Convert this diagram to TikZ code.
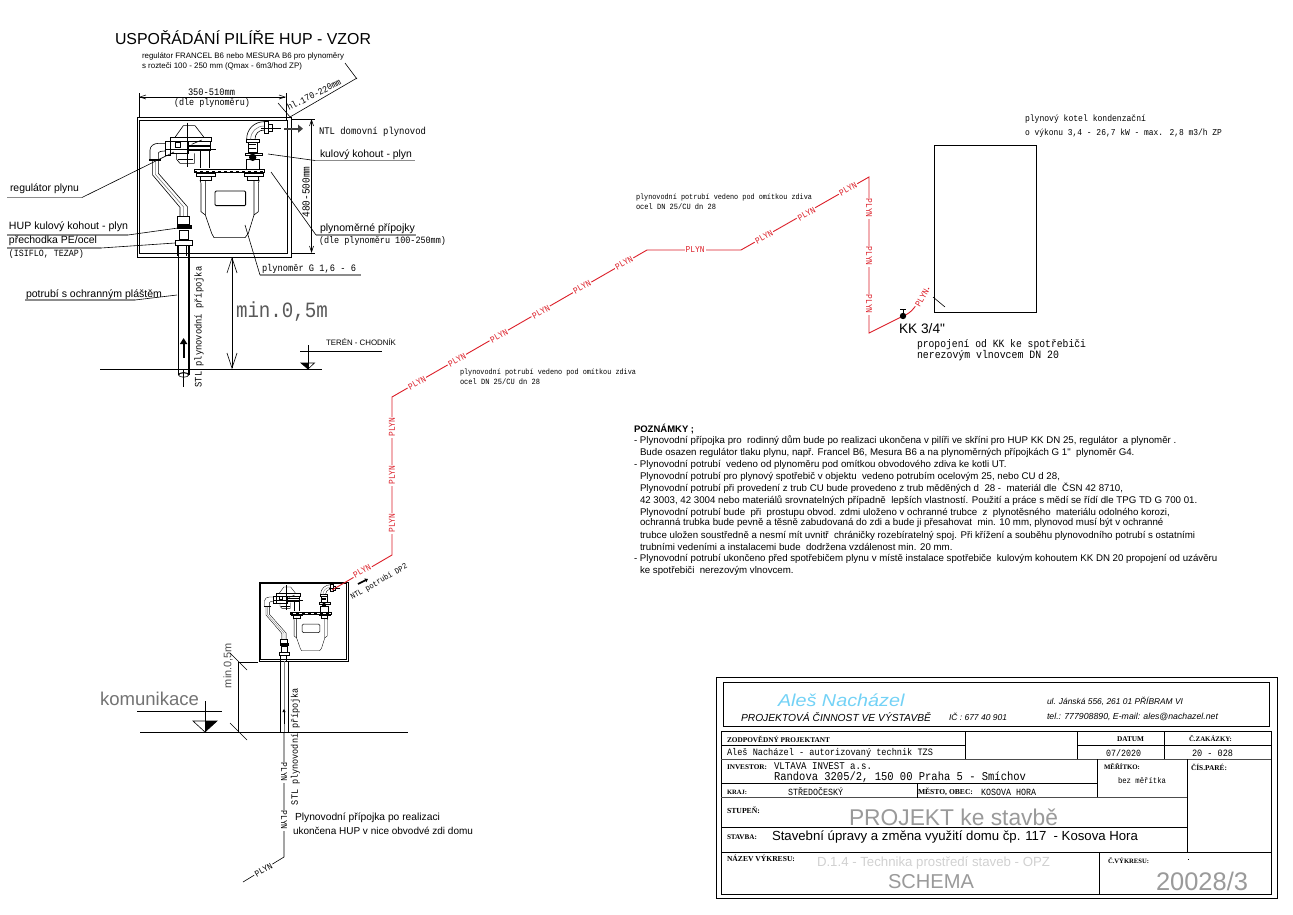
\documentclass[tikz,border=0pt]{standalone}
\usepackage{fontspec}
\usetikzlibrary{arrows.meta}
\newfontfamily\arial{Liberation Sans}
\newfontfamily\arialb{Liberation Sans Bold}
\newfontfamily\ariali{Liberation Sans Italic}
\newfontfamily\cadf[FakeStretch=0.88]{Liberation Mono}
\newfontfamily\serb{Liberation Serif Bold}
\definecolor{gasred}{HTML}{DC1E28}
\definecolor{ulgray}{HTML}{8C8C8C}
\definecolor{stampgray}{HTML}{9A9A9A}
\newsavebox\fitbox
\newcommand{\FW}[3]{\sbox\fitbox{#1\fontsize{10}{10}\selectfont #3}\pgfmathsetmacro\fitsz{10*#2/\wd\fitbox}#1\fontsize{\fitsz}{\fitsz}\selectfont #3}
% \LT[opts]{name}{x}{y}{font}{width}{text}
\newcommand{\LT}[7][]{\node[lab,#1] (#2) at (#3,#4) {\FW{#5}{#6}{#7}};}
% \NT{name}{x}{y}{text} : note line
\newcommand{\NT}[4]{\node[lab] (#1) at (#2,#3) {\arial\fontsize{9.7}{10}\selectfont #4};}
% \PL{name}{x}{y}{angle}{colour}
\newcommand{\PL}[5]{\node[plyn,rotate=#4,text=#5] (#1) at (#2,#3) {\cadf\fontsize{9}{9}\selectfont PLYN};}
\newcommand{\meterdraw}{%
  % regulator
  \draw (135,112)--(160,77)--(195,77)--(222,112);
  \draw (120,112) rectangle (245,125);
  \draw (120,125) rectangle (175,160);
  \draw (135,128) rectangle (150,142);
  \draw (175,125) rectangle (240,150);
  \fill (175,136) rectangle (240,141);
  \fill (175,148) rectangle (240,153);
  \draw (140,160)--(140,178)--(150,190)--(193,190)--(193,160);
  \draw (145,178)--(190,178);
  \draw (212,150)--(212,205) (238,150)--(238,205);
  \draw (172,68)--(172,200) (105,147)--(258,147);
  \draw (185,133)--(215,120);
  % left elbow
  \draw (60,178)--(60,150) .. controls (60,138) and (72,130) .. (85,130)--(105,130);
  \draw (85,178)--(85,160) .. controls (85,155) and (95,153) .. (105,153);
  \draw (105,123) rectangle (120,165);
  \fill (58,176) rectangle (92,182);
  % left pipe
  \draw (68,182)--(68,225)--(150,322)--(150,350);
  \draw (85,182)--(85,220)--(172,320)--(172,350);
  \draw[gray] (76,182)--(76,223)--(161,321)--(161,350);
  \draw (143,350) rectangle (178,372);
  \fill (140,374) rectangle (186,388);
  \draw (147,390) rectangle (175,418);
  \draw[line width=\mthick] (135,420) rectangle (187,437);
  \draw (143,437)--(143,468) (170,437)--(170,468);
  % bar and nuts
  \draw (193,208) rectangle (403,218);
  \draw[line width=\mthick,dashed] (193,213)--(403,213);
  \draw[line width=\mthick] (200,220) rectangle (255,228);
  \draw (210,228) rectangle (245,240);
  \draw[line width=\mthick] (343,220) rectangle (400,228);
  \draw (352,228) rectangle (385,240);
  % right valve
  \draw[line width=\mthick] (350,118) rectangle (387,126);
  \draw (355,126) rectangle (382,158);
  \draw (358,134)--(379,134) (358,144)--(379,144);
  \draw[line width=\mthick] (345,160) rectangle (398,166);
  \fill (368,172) circle (11);
  \draw (350,178) rectangle (388,208);
  % right elbow
  \draw (350,118) .. controls (350,85) and (375,65) .. (403,65);
  \draw (375,118) .. controls (375,102) and (385,90) .. (403,90);
  \draw[gray] (362,118) .. controls (362,95) and (380,78) .. (403,78);
  \draw[line width=\mthick] (402,63) rectangle (415,100);
  \draw (415,72) rectangle (428,95);
  \draw (393,85)--(452,85);
  % meter
  \draw (213,250)--(213,335)--(226,345);
  \draw (385,250)--(385,335)--(372,345);
  \draw (213,250)--(210,240) (385,250)--(388,240);
  \draw (226,240)--(226,345)--(245,400)--(252,413)--(345,413)--(355,400)--(372,345)--(372,240);
  \draw[rounded corners=1.2pt,line width=\mthick] (255,273) rectangle (347,317);
}
\tikzset{
  lab/.style={inner sep=0pt,outer sep=0pt,anchor=west,text=black},
  plyn/.style={inner sep=1pt,outer sep=0pt,fill=white},
  thinln/.style={line width=.6pt,draw=black},
  ln/.style={line width=.8pt,draw=black},
  hv/.style={line width=1pt,draw=black},
  ul/.style={line width=1.1pt,draw=ulgray},
  tbl/.style={line width=.8pt,draw=black},
  tblg/.style={line width=1pt,draw=black!70},
  pipe/.style={line width=.9pt,draw=gasred}
}
\begin{document}
\begin{tikzpicture}[x=1pt,y=-1pt]
\useasboundingbox (0,0) rectangle (1293,914);
\fill[white] (0,0) rectangle (1293,914);

% ---- top assembly ----
\LT{title}{115}{38}{\arial}{256}{USPOŘÁDÁNÍ PILÍŘE HUP - VZOR}
\LT{regA}{142}{56}{\arial}{202}{regulátor FRANCEL B6 nebo MESURA B6 pro plynoměry}
\LT{regB}{142}{66}{\arial}{160}{s rozteči 100 - 250 mm (Qmax - 6m3/hod ZP)}
\LT{widA}{188}{92}{\cadf}{47}{350-510mm}
\LT{widB}{174}{103}{\cadf}{76}{(dle plynoměru)}
\draw[thinln] (139,93)--(139,117) (286,93)--(286,120);
\draw[thinln,{Straight Barb[length=6pt,width=4pt]}-{Straight Barb[length=6pt,width=4pt]}] (139,97)--(286,97);
\draw[thinln] (290,117)--(357,78);
\draw[thinln] (345,63)--(357,79);
\draw[thinln] (278,103)--(291,118);
\LT[rotate=27,anchor=center]{hl}{314}{94.5}{\cadf}{59}{hl.170-220mm}

\draw[hv] (137,117) rectangle (291,257);
\draw[ln] (139.5,120) rectangle (287,253);
\begin{scope}[shift={(130,100)},scale=1/3,line width=.6pt]
  \def\mthick{.9pt}
  \meterdraw
\end{scope}
% outlet arrow
\draw[line width=2.2pt,black!75,-{Triangle[length=5pt,width=8pt]}] (284,128.7)--(303,128.7);

% pipe below
\draw[line width=1.5pt] (178.5,245)--(178.5,375) (188.8,245)--(188.8,375);
\draw[line width=.7pt] (178.5,375) arc[start angle=180,end angle=360,x radius=5.2,y radius=2.5];
\draw[line width=.6pt] (183.6,375) ellipse[x radius=5,y radius=2.2];
\draw[thinln] (183.6,369)--(183.6,387);
\draw[line width=1.8pt,-{Triangle[length=6pt,width=7pt]}] (183.6,358)--(183.6,338);
\LT[rotate=90,anchor=center]{stlA}{199}{327}{\cadf}{121}{STL plynovodní přípojka}

% labels with leaders
\LT{ntl}{319}{132}{\cadf}{107}{NTL domovní plynovod}
\LT{kul}{320}{155}{\arial}{92}{kulový kohout - plyn}
\draw[ul] (315,160.5)--(415,160.5);
\draw[thinln] (315,160.5)--(268,154);
\LT{reg}{10}{189}{\arial}{69}{regulátor plynu}
\draw[ul] (7,197.5)--(82,197.5);
\draw[thinln] (82,197.5)--(174,152);
\LT{hup}{9}{227}{\arial}{119}{HUP kulový kohout - plyn}
\draw[ul] (7,235)--(128,235);
\draw[thinln] (128,235)--(178,228);
\LT{pre}{9}{241}{\arial}{88}{přechodka PE/ocel}
\draw[ul] (7,248)--(101,248);
\draw[thinln] (101,248)--(175,243);
\LT{isi}{9}{254}{\cadf}{75}{(ISIFLO, TEZAP)}
\LT{pri}{320}{229}{\arial}{95}{plynoměrné přípojky}
\draw[ul] (316,235)--(416,235);
\draw[thinln] (316,235)--(271,172);
\LT{priB}{319}{241}{\cadf}{127}{(dle plynoměru 100-250mm)}
\LT{gm}{262}{269}{\cadf}{94}{plynoměr G 1,6 - 6}
\draw[ul] (260,275)--(361,275);
\draw[thinln] (260,275)--(245,225);
\LT{pot}{26}{294.5}{\arial}{136}{potrubí s ochranným pláštěm}
\draw[ul] (25,300)--(135,300);
\draw[thinln] (135,300)--(177,295);
\LT[rotate=90,anchor=center]{hei}{306}{192}{\cadf}{51}{480-500mm}
\draw[thinln] (291,119)--(315,119) (291,253)--(315,253);
\draw[thinln,{Straight Barb[length=6pt,width=4pt]}-{Straight Barb[length=6pt,width=4pt]}] (311.5,119)--(311.5,253);

% min 0,5 m
\node[lab,text=black!65] (minA) at (236,312) {\FW{\cadf}{92}{min.0,5m}};
\draw[thinln,{Straight Barb[length=15pt,width=10pt]}-{Straight Barb[length=15pt,width=10pt]}] (232,257)--(232,369);
\draw[ln] (100,369)--(322,369);
\LT{ter}{326}{342}{\arial}{70}{TERÉN - CHODNÍK}
\draw[thinln] (300,351)--(382,351);
\draw[thinln] (308,345)--(308,369);
\draw[thinln] (301,363)--(314.5,363)--(308,369)--cycle;
\fill (301,363)--(308,363)--(308,369)--cycle;

% ---- lower assembly ----
\draw[line width=.9pt] (259,582) rectangle (348,661);
\draw[line width=.5pt] (260.5,583.5) rectangle (346,659.5);
\begin{scope}[shift={(252.9,572.3)},xscale=.1933,yscale=.19,line width=.35pt]
  \def\mthick{.5pt}
  \meterdraw
\end{scope}
\draw[line width=.7pt] (280,661)--(280,732) (288,661)--(288,732);
\draw[line width=.5pt,gray] (284,661)--(284,732);
\draw[line width=.6pt,-{Triangle[length=3pt,width=3pt]}] (284,724)--(284,709);
\draw[ln] (140,732)--(408,732);
\draw[thinln] (284,732)--(284,857)--(243,882);
\PL{pa}{284}{772}{-90}{black}
\PL{pb}{284}{820}{-90}{black}
\PL{pc}{263.5}{870}{30}{black}
\LT[rotate=90,anchor=center]{stlB}{295.5}{746.5}{\cadf}{117}{STL plynovodní přípojka}
\node[lab,rotate=90,anchor=center,text=black!70] (minB) at (228,665.5) {\FW{\arial}{45}{min.0,5m}};
\draw[thinln] (238,662)--(238,732) (238,662)--(258,662);
\draw[thinln] (230,653)--(247,670) (230,723)--(247,740);
\draw[thinln] (137,711)--(222,711);
\draw[thinln] (205,701)--(205,732);
\draw[thinln] (193,721)--(217,721)--(205,732)--cycle;
\fill (205,721)--(217,721)--(205,732)--cycle;
\node[lab,text=black!55] (kom) at (100,699) {\FW{\arial}{99}{komunikace}};
\LT{real}{295}{818}{\arial}{145}{Plynovodní přípojka po realizaci}
\LT{konc}{293}{831}{\arial}{180}{ukončena HUP v nice obvodvé zdi domu}
\draw[line width=1.6pt,-{Triangle[length=3pt,width=4pt]}] (358,584)--(368,579);
\LT[rotate=30,anchor=center]{ntlB}{379}{582}{\cadf}{64}{NTL potrubí DP2}

% ---- gas pipe ----
\coordinate (g0) at (332,590);
\coordinate (g1) at (392,555);
\coordinate (g2) at (392,397);
\coordinate (g3) at (647,250);
\coordinate (g4) at (741,250);
\coordinate (g5) at (869,177);
\coordinate (g6) at (869,333);
\coordinate (kk) at (903,316);
\coordinate (g7) at (914,312);
\coordinate (g8) at (929,288);
\draw[pipe] (g0)--(g1)--(g2)--(g3)--(g4)--(g5)--(g6)--(kk) .. controls (g7) and (915,305) .. (g8);
\PL{r1}{362}{571}{30}{gasred}
\PL{r2}{392}{523}{90}{gasred}
\PL{r3}{392}{475}{90}{gasred}
\PL{r4}{392}{427}{90}{gasred}
\PL{r5}{417}{383}{30}{gasred}
\PL{r6}{457}{360}{30}{gasred}
\PL{r7}{499}{336}{30}{gasred}
\PL{r8}{541}{312}{30}{gasred}
\PL{r9}{582}{287}{30}{gasred}
\PL{r10}{624}{263}{30}{gasred}
\PL{r11}{695}{250}{0}{gasred}
\PL{r12}{764}{237}{30}{gasred}
\PL{r13}{806.5}{214}{30}{gasred}
\PL{r14}{848}{189}{30}{gasred}
\PL{r15}{869}{208}{-90}{gasred}
\PL{r16}{869}{256}{-90}{gasred}
\PL{r17}{869}{304}{-90}{gasred}
\PL{r18}{922}{298}{60}{gasred}
\fill (kk) circle (3.2);
\draw[ln] (kk)--(903,309) (900,309)--(906,309);
\draw[thinln] (933,297)--(945,307);

\draw[ln] (934,145) rectangle (1036,312);
\LT{kotA}{1025}{119}{\cadf}{121}{plynový kotel kondenzační}
\LT{kotB}{1025}{133}{\cadf}{197}{o výkonu 3,4 - 26,7 kW - max. 2,8 m3/h ZP}
\LT{poA}{636}{197}{\cadf}{176}{plynovodní potrubí vedeno pod omítkou zdiva}
\LT{poB}{636}{207}{\cadf}{80}{ocel DN 25/CU dn 28}
\LT{poC}{460}{372}{\cadf}{176}{plynovodní potrubí vedeno pod omítkou zdiva}
\LT{poD}{460}{382}{\cadf}{80}{ocel DN 25/CU dn 28}
\LT{kk34}{899}{329}{\arial}{46}{KK 3/4"}
\LT{prA}{917}{345}{\cadf}{169}{propojení od KK ke spotřebiči}
\LT{prB}{917}{356}{\cadf}{142}{nerezovým vlnovcem DN 20}

% ---- notes ----
\node[lab] (poz) at (634,429) {\arialb\fontsize{9.5}{10}\selectfont POZNÁMKY ;};
\NT{n1}{634}{441}{- Plynovodní přípojka pro ~rodinný dům bude po realizaci ukončena v pilíři ve skříni pro HUP KK DN 25, regulátor ~a plynoměr .}
\NT{n2}{640}{453}{Bude osazen regulátor tlaku plynu, např. Francel B6, Mesura B6 a na plynoměrných přípojkách G 1" ~plynoměr G4.}
\NT{n3}{634}{465}{- Plynovodní potrubí ~vedeno od plynoměru pod omítkou obvodového zdiva ke kotli UT.}
\NT{n4}{640}{477}{Plynovodní potrubí pro plynový spotřebič v objektu ~vedeno potrubím ocelovým 25, nebo CU d 28,}
\NT{n5}{640}{488}{Plynovodní potrubí při provedení z trub CU bude provedeno z trub měděných d ~28 - ~materiál dle ~ČSN 42 8710,}
\NT{n6}{640}{501}{42 3003, 42 3004 nebo materiálů srovnatelných případně ~lepších vlastností. Použití a práce s mědí se řídí dle TPG TD G 700 01.}
\NT{n7}{640}{513}{Plynovodní potrubí bude ~při ~prostupu obvod. zdmi uloženo v ochranné trubce ~z ~plynotěsného ~materiálu odolného korozi,}
\NT{n8}{640}{523}{ochranná trubka bude pevně a těsně zabudovaná do zdi a bude ji přesahovat ~min. 10 mm, plynovod musí být v ochranné}
\NT{n9}{640}{536}{trubce uložen soustředně a nesmí mít uvnitř ~chráničky rozebíratelný spoj. Při křížení a souběhu plynovodního potrubí s ostatními}
\NT{n10}{640}{547}{trubními vedeními a instalacemi bude ~dodržena vzdálenost min. 20 mm.}
\NT{n11}{634}{559}{- Plynovodní potrubí ukončeno před spotřebičem plynu v místě instalace spotřebiče ~kulovým kohoutem KK DN 20 propojení od uzávěru}
\NT{n12}{640}{571}{ke spotřebiči ~nerezovým vlnovcem.}

% ---- title block ----
\draw[hv] (716,677) rectangle (1277,898);
\draw[ln] (723.5,682) rectangle (1269,726);
\draw[ln] (721,731) rectangle (1271,894);
\draw[tbl] (721,745.7)--(965,745.7) (1077,745.7)--(1271,745.7);
\draw[tblg] (721,759.3)--(1271,759.3);
\draw[tbl] (965,731)--(965,759.3) (1077,731)--(1077,759.3) (1164,731)--(1164,759.3);
\draw[tbl] (721,783.3)--(1097,783.3);
\draw[tbl] (1097,759.3)--(1097,797.7);
\draw[tbl] (1187,759.3)--(1187,852.7);
\draw[tblg] (721,797.7)--(1187,797.7);
\draw[tbl] (917,783.3)--(917,797.7);
\draw[tbl] (721,827.3)--(1187,827.3);
\draw[tbl] (721,852.7)--(1271,852.7);
\draw[tbl] (1099,852.7)--(1099,894);

\node[lab,text=cyan!55,xscale=1.15] (ales) at (778,700) {\FW{\ariali}{110}{Aleš Nacházel}};
\LT{proj}{741}{717}{\ariali}{190}{PROJEKTOVÁ ČINNOST VE VÝSTAVBĚ}
\LT{ic}{949}{717}{\ariali}{58}{IČ : 677 40 901}
\LT{ul}{1047}{701}{\ariali}{136}{ul. Jánská 556, 261 01 PŘÍBRAM VI}
\LT{tel}{1047}{717}{\ariali}{171}{tel.: 777908890, E-mail: ales@nachazel.net}
\LT{zod}{727}{739}{\serb}{103}{ZODPOVĚDNÝ PROJEKTANT}
\LT{ales2}{727}{753}{\cadf}{206}{Aleš Nacházel - autorizovaný technik TZS}
\LT{datum}{1117}{739}{\serb}{27}{DATUM}
\LT{zak}{1189}{739}{\serb}{43}{Č.ZAKÁZKY:}
\LT{dat}{1106}{753}{\cadf}{35}{07/2020}
\LT{zakn}{1192}{753}{\cadf}{41}{20 - 028}
\LT{inv}{727}{767}{\serb}{40}{INVESTOR:}
\LT{vlt}{774}{766}{\cadf}{98}{VLTAVA INVEST a.s.}
\LT{ran}{774}{777}{\cadf}{252}{Randova 3205/2, 150 00 Praha 5 - Smíchov}
\LT{mer}{1104}{767}{\serb}{36}{MĚŘÍTKO:}
\LT{bez}{1118}{781}{\cadf}{48}{bez měřítka}
\LT{cis}{1191}{767}{\serb}{36}{ČÍS.PARÉ:}
\LT{kr}{727}{792}{\serb}{20}{KRAJ:}
\LT{stc}{788}{792}{\cadf}{55}{STŘEDOČESKÝ}
\LT{mes}{918}{792}{\serb}{55}{MĚSTO, OBEC:}
\LT{kos}{981}{792}{\cadf}{55}{KOSOVA HORA}
\LT{stu}{727}{810}{\serb}{33}{STUPEŇ:}
\node[lab,text=stampgray] (pke) at (849,817) {\FW{\arial}{209}{PROJEKT ke stavbě}};
\LT{stv}{727}{837}{\serb}{30}{STAVBA:}
\LT{stvt}{772}{837}{\arial}{366}{Stavební úpravy a změna využití domu čp. 117 ~- Kosova Hora}
\LT{naz}{727}{858}{\serb}{68}{NÁZEV VÝKRESU:}
\node[lab,text=black!18] (d14) at (817,863) {\FW{\arial}{233}{D.1.4 - Technika prostředí staveb - OPZ}};
\node[lab,text=stampgray] (sch) at (888,882) {\FW{\arial}{86}{SCHEMA}};
\LT{cv}{1108}{861}{\serb}{41}{Č.VÝKRESU:}
\fill (1187.6,858.6) rectangle (1188.6,860);
\node[lab,text=stampgray] (cis2) at (1156,881) {\FW{\arial}{92}{20028/3}};
\end{tikzpicture}
\end{document}
